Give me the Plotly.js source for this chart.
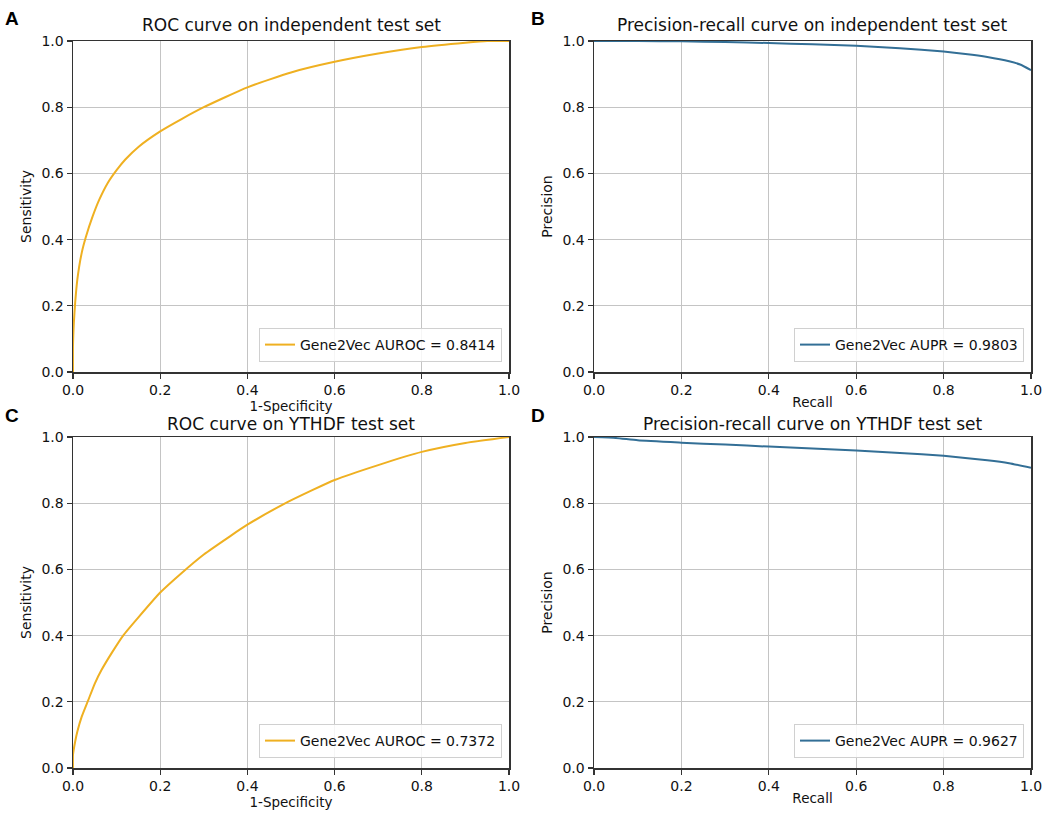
<!DOCTYPE html>
<html>
<head>
<meta charset="utf-8">
<script src="https://cdn.plot.ly/plotly-3.0.1.min.js"></script>
<style>body{margin:0;background:#fff}#chart{width:1042px;height:813px}</style>
</head>
<body>
<div id="chart"></div>
<script>
// Panel A: ROC on independent test set
const rocA_fpr = [0.0, 0.0, 0.002, 0.005, 0.01, 0.02, 0.03, 0.045, 0.06, 0.08, 0.1, 0.12, 0.15, 0.2, 0.25, 0.3, 0.4, 0.5, 0.6, 0.7, 0.8, 0.9, 0.95, 1.0];
const rocA_tpr = [0.0, 0.08, 0.15, 0.21, 0.28, 0.36, 0.41, 0.47, 0.52, 0.572, 0.61, 0.642, 0.68, 0.727, 0.765, 0.8, 0.86, 0.905, 0.937, 0.962, 0.982, 0.995, 1.0, 1.0];
// Panel B: PR on independent test set
const prB_recall = [0.0, 0.1, 0.2, 0.3, 0.4, 0.5, 0.6, 0.7, 0.8, 0.85, 0.9, 0.95, 0.975, 1.0];
const prB_precision = [1.0, 1.0, 0.999, 0.997, 0.994, 0.99, 0.986, 0.978, 0.968, 0.961, 0.952, 0.939, 0.929, 0.912];
// Panel C: ROC on YTHDF test set
const rocC_fpr = [0.0, 0.0, 0.005, 0.01, 0.02, 0.035, 0.05, 0.065, 0.09, 0.115, 0.15, 0.2, 0.25, 0.3, 0.36, 0.4, 0.48, 0.55, 0.6, 0.7, 0.8, 0.9, 1.0];
const rocC_tpr = [0.0, 0.04, 0.08, 0.11, 0.155, 0.205, 0.255, 0.295, 0.35, 0.4, 0.455, 0.53, 0.59, 0.645, 0.7, 0.735, 0.795, 0.84, 0.87, 0.915, 0.955, 0.982, 1.0];
// Panel D: PR on YTHDF test set
const prD_recall = [0.0, 0.05, 0.1, 0.2, 0.3, 0.4, 0.5, 0.6, 0.7, 0.8, 0.9, 0.95, 1.0];
const prD_precision = [1.0, 0.997, 0.99, 0.983, 0.977, 0.971, 0.965, 0.959, 0.952, 0.943, 0.93, 0.921, 0.907];

const legendLabels = ["Gene2Vec AUROC = 0.8414", "Gene2Vec AUPR = 0.9803", "Gene2Vec AUROC = 0.7372", "Gene2Vec AUPR = 0.9627"];
const panelTitles = ["ROC curve on independent test set", "Precision-recall curve on independent test set", "ROC curve on YTHDF test set", "Precision-recall curve on YTHDF test set"];
const xTitles = ["1-Specificity", "Recall", "1-Specificity", "Recall"];
const yTitles = ["Sensitivity", "Precision", "Sensitivity", "Precision"];
const panelLetters = ["A", "B", "C", "D"];
const tickVals = [0, 0.2, 0.4, 0.6, 0.8, 1.0];

const orange = "#efb021";
const blue = "#336f96";
const W = 1042, H = 813;
const px = v => v / W;
const py = v => 1 - v / H;

const xd = [[px(73), px(509)], [px(594), px(1031)], [px(73), px(509)], [px(594), px(1031)]];
const yd = [[py(372), py(41)], [py(372), py(41)], [py(768), py(437)], [py(768), py(437)]];

const series = [[rocA_fpr, rocA_tpr, orange], [prB_recall, prB_precision, blue], [rocC_fpr, rocC_tpr, orange], [prD_recall, prD_precision, blue]];

const data = series.map((s, i) => ({
  type: "scatter", mode: "lines",
  x: s[0], y: s[1],
  line: {color: s[2], width: 2, shape: "spline", smoothing: 0.5},
  name: legendLabels[i],
  xaxis: i === 0 ? "x" : "x" + (i + 1),
  yaxis: i === 0 ? "y" : "y" + (i + 1),
  legend: i === 0 ? "legend" : "legend" + (i + 1),
  showlegend: true
}));

const font = {family: "DejaVu Sans, sans-serif", color: "#111", size: 13};
const layout = {
  width: W, height: H,
  margin: {l: 0, r: 0, t: 0, b: 0},
  paper_bgcolor: "#fff", plot_bgcolor: "#fff",
  font: font,
  annotations: [],
  shapes: []
};

const legendPos = [[502, 362], [1024, 362], [502, 758], [1024, 758]];
for (let i = 0; i < 4; i++) {
  const sfx = i === 0 ? "" : String(i + 1);
  const axisCommon = {
    range: [0, 1],
    tickvals: tickVals, tickformat: ".1f",
    ticks: "outside", ticklen: 5, tickwidth: 1.2, tickcolor: "#333",
    showline: true, linecolor: "#333", linewidth: 1.5, mirror: true,
    showgrid: true, gridcolor: "#c4c4c4", gridwidth: 1,
    zeroline: false, ticklabeloverflow: "allow",
    tickfont: {size: 14, family: "DejaVu Sans, sans-serif", color: "#111"}
  };
  layout["xaxis" + sfx] = Object.assign({}, axisCommon, {
    domain: xd[i], anchor: "y" + sfx,
    title: {text: xTitles[i], font: {size: 13.5}, standoff: 0}
  });
  layout["yaxis" + sfx] = Object.assign({}, axisCommon, {
    domain: yd[i], anchor: "x" + sfx,
    title: {text: yTitles[i], font: {size: 14}, standoff: 6}
  });
  layout[i === 0 ? "legend" : "legend" + (i + 1)] = {
    x: px(legendPos[i][0]), y: py(legendPos[i][1]),
    xanchor: "right", yanchor: "bottom",
    bgcolor: "rgba(255,255,255,0.85)", bordercolor: "#d0d0d0", borderwidth: 1,
    font: {size: 14, family: "DejaVu Sans, sans-serif", color: "#111"},
    itemwidth: 30, tracegroupgap: 0
  };
  const cx = (xd[i][0] + xd[i][1]) / 2;
  layout.annotations.push({
    xref: "paper", yref: "paper", x: cx, y: yd[i][1] + (i < 2 ? 4 : 1) / H,
    xanchor: "center", yanchor: "bottom", showarrow: false,
    text: panelTitles[i], font: {size: 17, family: "DejaVu Sans, sans-serif", color: "#111"}
  });
  const lx = i % 2 === 0 ? 12 : 538;
  const ly = i < 2 ? 18 : 415;
  layout.annotations.push({
    xref: "paper", yref: "paper", x: px(lx), y: py(ly),
    xanchor: "center", yanchor: "middle", showarrow: false,
    text: "<b>" + panelLetters[i] + "</b>", font: {size: 19, family: "Liberation Sans, Arial, sans-serif", color: "#000"}
  });
}

Plotly.newPlot("chart", data, layout, {displayModeBar: false, staticPlot: true});
</script>
</body>
</html>
